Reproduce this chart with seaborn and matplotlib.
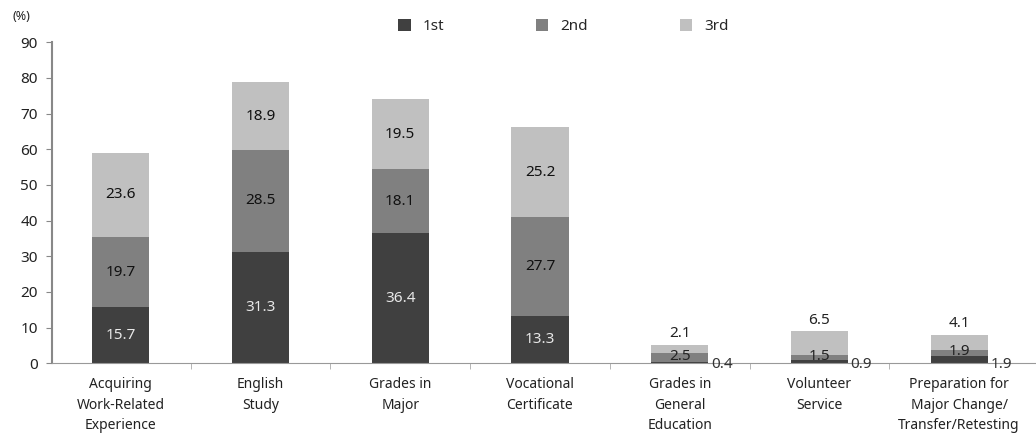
import matplotlib
matplotlib.use("Agg")
import matplotlib.pyplot as plt
import seaborn as sns
import numpy as np

categories = ["Acquiring\nWork-Related\nExperience", "English\nStudy", "Grades in\nMajor",
              "Vocational\nCertificate", "Grades in\nGeneral\nEducation", "Volunteer\nService",
              "Preparation for\nMajor Change/\nTransfer/Retesting"]
first = [15.7, 31.3, 36.4, 13.3, 0.4, 0.9, 1.9]
second = [19.7, 28.5, 18.1, 27.7, 2.5, 1.5, 1.9]
third = [23.6, 18.9, 19.5, 25.2, 2.1, 6.5, 4.1]
series_names = ["1st", "2nd", "3rd"]
colors = ["#404040", "#808080", "#c0c0c0"]

sns.set_style("white")
plt.rcParams["font.family"] = ["Noto Sans", "DejaVu Sans"]

fig = plt.figure(figsize=(10.36, 4.44), dpi=100)
ax = fig.add_axes([0.05, 0.182, 0.95, 0.723])

b1 = np.array(first)
b2 = b1 + np.array(second)
sns.barplot(x=categories, y=first, color=colors[0], width=0.41, ax=ax, label=series_names[0],
            linewidth=0)
sns.barplot(x=categories, y=second, color=colors[1], width=0.41, bottom=b1, ax=ax,
            label=series_names[1], linewidth=0)
sns.barplot(x=categories, y=third, color=colors[2], width=0.41, bottom=b2, ax=ax,
            label=series_names[2], linewidth=0)

# value labels
for i in range(len(categories)):
    big = b2[i] + third[i] > 20
    if big:
        ax.text(i, first[i] / 2, f"{first[i]}", ha="center", va="center", color="#e8e8e8",
                fontsize=11, fontweight="bold")
        ax.text(i, b1[i] + second[i] / 2, f"{second[i]}", ha="center", va="center",
                color="#111111", fontsize=11, fontweight="bold")
        ax.text(i, b2[i] + third[i] / 2, f"{third[i]}", ha="center", va="center",
                color="#111111", fontsize=11, fontweight="bold")
    else:
        ax.text(i + 0.3, -0.3, f"{first[i]}", ha="center", va="center", color="#333333",
                fontsize=11, fontweight="bold")
        ax.text(i, b1[i] + second[i] / 2 + 0.3, f"{second[i]}", ha="center", va="center",
                color="#222222", fontsize=11, fontweight="bold")
        ax.text(i, b2[i] + third[i] + 3.2, f"{third[i]}", ha="center", va="center",
                color="#222222", fontsize=11, fontweight="bold")

ax.set_ylim(0, 90)
ax.set_xlim(-0.494, 6.55)
ax.set_yticks(range(0, 91, 10))
ax.tick_params(axis="y", labelsize=11, length=4, color="#888888", direction="out", left=True,
               pad=6)
for t in ax.get_yticklabels():
    t.set_fontweight("bold")
    t.set_color("#222222")
ax.tick_params(axis="x", labelsize=10, length=0, pad=10, colors="#222222")
for t in ax.get_xticklabels():
    t.set_linespacing(1.5)
ax.set_xticks(np.arange(0.5, 6.5, 1), minor=True)
ax.tick_params(axis="x", which="minor", length=4, color="#aaaaaa", bottom=True)

for s in ["top", "right"]:
    ax.spines[s].set_visible(False)
ax.spines["left"].set_color("#888888")
ax.spines["left"].set_linewidth(1.5)
ax.spines["bottom"].set_color("#999999")
ax.set_xlabel("")
ax.set_ylabel("")

fig.text(0.012, 0.955, "(%)", fontsize=9, fontweight="bold", color="#222222")

ax.legend(loc="upper center", bbox_to_anchor=(0.52, 1.115), ncol=3, frameon=False,
          fontsize=11, handlelength=0.8, handleheight=0.8, columnspacing=6.0)

fig.savefig("out.png", dpi=100)
